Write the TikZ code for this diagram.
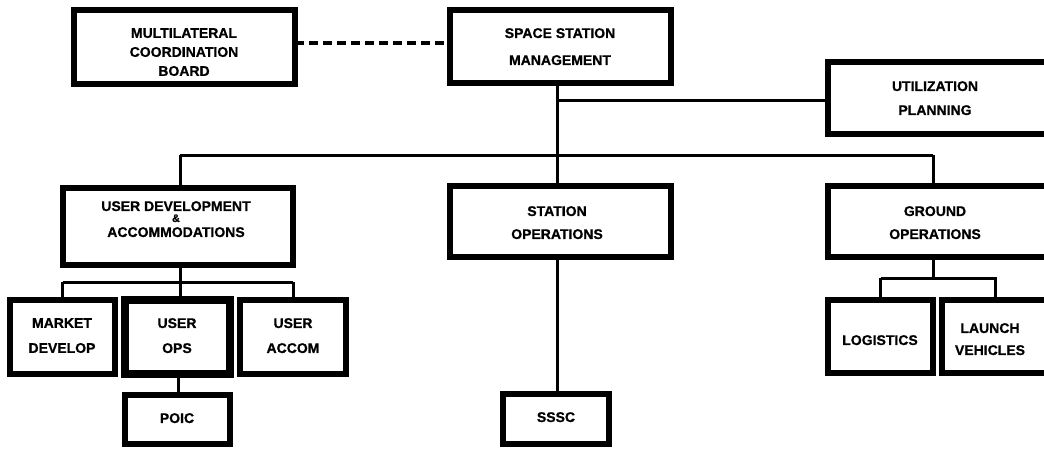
\documentclass[tikz,border=0pt]{standalone}
\usepackage{fontspec}
\setmainfont{Liberation Sans}[BoldFeatures={FakeBold=0.8}]
\begin{document}
\begin{tikzpicture}[x=1pt,y=-1pt,
  box/.style={draw=black, line width=5.5pt, inner sep=0pt, outer sep=0pt},
  thickbox/.style={box, line width=7.5pt},
  lbl/.style={anchor=north, inner sep=0pt, align=center, font=\bfseries\fontsize{14}{#1}\selectfont},
  lbl/.default=22,
  conn/.style={line width=3pt},
  dashconn/.style={line width=4.5pt, dash pattern=on 9pt off 5pt}]
\useasboundingbox (0,0) rectangle (1044,448);
\clip (0,0) rectangle (1044,448);
% ---------- boxes ----------
\node[box, minimum width=221pt, minimum height=74pt] (mcb)  at (184.5,47)   {};
\node[box, minimum width=221pt, minimum height=73pt] (ssm)  at (560.5,46.5) {};
\node[box, minimum width=242pt, minimum height=72pt] (up)   at (949,98)     {};
\node[box, minimum width=230pt, minimum height=77pt] (uda)  at (178,226.5)  {};
\node[box, minimum width=221pt, minimum height=71pt] (so)   at (560.5,221.5){};
\node[box, minimum width=242pt, minimum height=71pt] (go)   at (949,221.5)  {};
\node[box, minimum width=105pt, minimum height=74pt] (md)   at (62.5,337)   {};
\node[thickbox, minimum width=105pt, minimum height=74pt] (uo) at (177.5,337) {};
\node[box, minimum width=106pt, minimum height=74pt] (ua)   at (293,337)    {};
\node[box, minimum width=105pt, minimum height=49pt] (poic) at (177.5,419.5){};
\node[box, minimum width=106pt, minimum height=50pt] (sssc) at (556,419)    {};
\node[box, minimum width=105pt, minimum height=73pt] (log)  at (880.5,336.5){};
\node[box, minimum width=128pt, minimum height=73pt] (lv)   at (1006,336.5) {};
% ---------- labels ----------
\node[lbl=19] (mcbt)  at (184,28)  {MULTILATERAL\\COORDINATION\\BOARD};
\node[lbl=27] (ssmt)  at (560,28)  {SPACE STATION\\MANAGEMENT};
\node[lbl=24] (upt)   at (935,81)  {UTILIZATION\\PLANNING};
\node[lbl=11] (udat)  at (176,201) {USER DEVELOPMENT\\{\fontsize{11}{11}\selectfont\&}\\[4pt]ACCOMMODATIONS};
\node[lbl=23] (sot)   at (557,206) {STATION\\OPERATIONS};
\node[lbl=23] (got)   at (935,206) {GROUND\\OPERATIONS};
\node[lbl=25] (mdt)   at (62,318)  {MARKET\\DEVELOP};
\node[lbl=25] (uot)   at (177,318) {USER\\OPS};
\node[lbl=25] (uat)   at (293,318) {USER\\ACCOM};
\node[lbl]    (logt)  at (880,335) {LOGISTICS};
\node[lbl=22] (lvt)   at (990,323) {LAUNCH\\VEHICLES};
\node[lbl]    (poict) at (177,413) {POIC};
\node[lbl]    (sssct) at (556,412) {SSSC};
% ---------- junction points ----------
\coordinate (j1) at (557,100);
\coordinate (j2) at (557,155);
\coordinate (bl) at (180,155);
\coordinate (br) at (933,155);
\coordinate (u1) at (180,282);
\coordinate (g1) at (933,278);
\coordinate (g2) at (995,278);
% ---------- connectors ----------
\draw[dashconn] ([yshift=4pt]mcb.east) -- ([yshift=4pt]mcb.east -| ssm.west);
\draw[conn] (j1 |- ssm.south) -- (j2);
\draw[conn] (j1) -- (j1 -| up.west);
\draw[conn] (bl) -- (br);
\draw[conn] (bl) -- (bl |- uda.north);
\draw[conn] (j2) -- (j2 |- so.north);
\draw[conn] (br) -- (br |- go.north);
\draw[conn] (u1 |- uda.south) -- (u1);
\draw[conn] (md.north |- u1) -- (ua.north |- u1);
\draw[conn] (md.north |- u1) -- (md.north);
\draw[conn] (u1) -- (u1 |- uo.north);
\draw[conn] (ua.north |- u1) -- (ua.north);
\draw[conn] ([xshift=1pt]uo.south) -- ([xshift=1pt]uo.south |- poic.north);
\draw[conn] (j2 |- so.south) -- (j2 |- sssc.north);
\draw[conn] (g1 |- go.south) -- (g1);
\draw[conn] (log.north |- g1) -- (g2) -- (g2 |- lv.north);
\draw[conn] (log.north |- g1) -- (log.north);
\end{tikzpicture}
\end{document}
